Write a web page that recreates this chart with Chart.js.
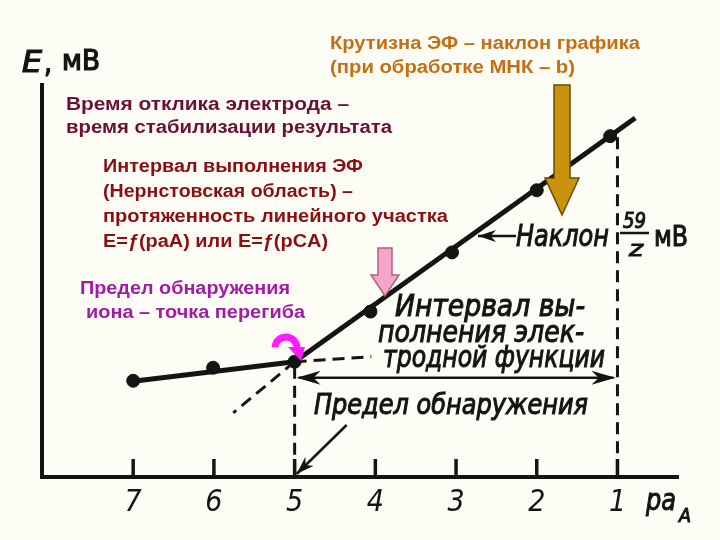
<!DOCTYPE html>
<html>
<head>
<meta charset="utf-8">
<script src="https://cdn.jsdelivr.net/npm/chart.js@4.4.1/dist/chart.umd.min.js"></script>
<style>
html, body { margin: 0; padding: 0; background: #fdfdf6; }
#wrap { width: 720px; height: 540px; }
</style>
</head>
<body>
<div id="wrap"><canvas id="chart" width="720" height="540"></canvas></div>
<script>
// pa_A ticks on the reversed x axis
const tickValues = [7, 6, 5, 4, 3, 2, 1];

// measured points, E in mV (arbitrary zero at the x axis)
const pointPa = [7.0, 6.01, 5.0, 4.06, 3.05, 2.0, 1.09];
const pointE = [96, 109, 115, 165, 224, 286, 340];

// drawn lines
const lowerLinePa = [7.05, 5.0];
const lowerLineE = [95, 115];
const upperLinePa = [5.0, 0.78];
const upperLineE = [115, 358];
const upperExtPa = [5.0, 5.76];
const upperExtE = [115, 64];
const lowerExtPa = [5.0, 4.05];
const lowerExtE = [115, 120];
// vertical dashed limits of the working range
const limitPa = [5, 1];
const limitTopE = [110, 339];
const rangeArrowE = 99;

const INK = '#141414';
const FIG_FONT = "'DejaVu Sans Condensed', 'Liberation Sans Narrow', 'DejaVu Sans'";
const NOTE_FONT = "'Liberation Sans', Arial, sans-serif";

function pts(xs, ys) {
    return xs.map((x, i) => ({x: x, y: ys[i]}));
}

function lineSet(xs, ys, dashed) {
    return {
        data: pts(xs, ys),
        showLine: true,
        borderColor: INK,
        borderWidth: dashed ? 3 : 5,
        borderDash: dashed ? [12, 7] : [],
        pointRadius: 0,
        fill: false
    };
}

function fitText(ctx, text, x, y, w, font, color, thick) {
    ctx.save();
    ctx.font = font;
    ctx.fillStyle = color;
    ctx.textBaseline = 'alphabetic';
    const m = ctx.measureText(text).width;
    ctx.translate(x, y);
    ctx.scale(w / m, 1);
    ctx.fillText(text, 0, 0);
    if (thick) {
        ctx.strokeStyle = color;
        ctx.lineWidth = thick;
        ctx.strokeText(text, 0, 0);
    }
    ctx.restore();
}

function arrowHead(ctx, x1, y1, x2, y2, len, half) {
    const a = Math.atan2(y2 - y1, x2 - x1);
    ctx.beginPath();
    ctx.moveTo(x2, y2);
    ctx.lineTo(x2 - len * Math.cos(a) + half * Math.sin(a), y2 - len * Math.sin(a) - half * Math.cos(a));
    ctx.lineTo(x2 - len * 0.7 * Math.cos(a), y2 - len * 0.7 * Math.sin(a));
    ctx.lineTo(x2 - len * Math.cos(a) - half * Math.sin(a), y2 - len * Math.sin(a) + half * Math.cos(a));
    ctx.closePath();
    ctx.fill();
}

function arrow(ctx, x1, y1, x2, y2) {
    ctx.beginPath();
    ctx.moveTo(x1, y1);
    ctx.lineTo(x2, y2);
    ctx.stroke();
    arrowHead(ctx, x1, y1, x2, y2, 18, 6);
}

function blockArrow(ctx, cx, top, shaftEnd, tip, shaftHalf, headHalf, fill, stroke) {
    ctx.save();
    ctx.beginPath();
    ctx.moveTo(cx - shaftHalf, top);
    ctx.lineTo(cx + shaftHalf, top);
    ctx.lineTo(cx + shaftHalf, shaftEnd);
    ctx.lineTo(cx + headHalf, shaftEnd);
    ctx.lineTo(cx, tip);
    ctx.lineTo(cx - headHalf, shaftEnd);
    ctx.lineTo(cx - shaftHalf, shaftEnd);
    ctx.closePath();
    ctx.fillStyle = fill;
    ctx.fill();
    ctx.lineWidth = 1.5;
    ctx.strokeStyle = stroke;
    ctx.stroke();
    ctx.restore();
}

const decorPlugin = {
    id: 'decor',
    afterDraw(chart) {
        const ctx = chart.ctx;
        const xs = chart.scales.x;
        const ys = chart.scales.y;
        const area = chart.chartArea;
        ctx.save();
        ctx.strokeStyle = INK;
        ctx.fillStyle = INK;
        ctx.lineCap = 'butt';

        // upward tick marks on the x axis
        ctx.lineWidth = 3.5;
        tickValues.forEach(v => {
            const px = xs.getPixelForValue(v);
            ctx.beginPath();
            ctx.moveTo(px, area.bottom);
            ctx.lineTo(px, area.bottom - 18);
            ctx.stroke();
        });

        // double arrow over the working range
        const ya = ys.getPixelForValue(rangeArrowE);
        const xa = xs.getPixelForValue(limitPa[0]);
        const xb = xs.getPixelForValue(limitPa[1]);
        ctx.lineWidth = 2.5;
        ctx.beginPath();
        ctx.moveTo(xa + 4, ya);
        ctx.lineTo(xb - 4, ya);
        ctx.stroke();
        arrowHead(ctx, xb, ya, xa + 2, ya, 24, 7);
        arrowHead(ctx, xa, ya, xb - 2, ya, 24, 7);

        // arrow to detection limit on the axis
        ctx.lineWidth = 2.5;
        arrow(ctx, xa + 52, area.bottom - 52, xa + 2, area.bottom - 3);

        // arrow to the slope
        arrow(ctx, 516, 236, 478, 236);

        // textbook italic labels
        const f30 = 'italic 30px ' + FIG_FONT;
        fitText(ctx, 'Интервал вы-', 395, 316, 190, f30, INK, 1);
        fitText(ctx, 'полнения элек-', 378, 342, 206, f30, INK, 1);
        fitText(ctx, 'тродной функции', 383, 367, 222, f30, INK, 1);
        fitText(ctx, 'Предел обнаружения', 314, 414, 274, 'italic 28px ' + FIG_FONT, INK, 1);
        fitText(ctx, 'Наклон', 516, 246, 93, f30, INK, 1);
        fitText(ctx, '59', 623, 228, 23, 'italic 22px ' + FIG_FONT, INK, 1);
        fitText(ctx, 'z', 629, 256, 14, 'italic 22px ' + FIG_FONT, INK, 1);
        ctx.lineWidth = 2.5;
        ctx.beginPath();
        ctx.moveTo(620, 233);
        ctx.lineTo(649, 233);
        ctx.stroke();
        fitText(ctx, 'мВ', 654, 246, 34, '28px ' + FIG_FONT, INK, 1);
        fitText(ctx, 'E', 22, 72, 20, 'italic 30px ' + FIG_FONT, INK, 1.2);
        fitText(ctx, ',', 44, 72, 8, '30px ' + FIG_FONT, INK, 1.2);
        fitText(ctx, 'мВ', 62, 70, 38, '28px ' + FIG_FONT, INK, 1.2);
        fitText(ctx, 'pa', 646, 510, 30, 'italic 30px ' + FIG_FONT, INK, 1);
        fitText(ctx, 'A', 679, 522, 12, 'italic 20px ' + FIG_FONT, INK, 1);

        // coloured notes on top of the figure
        const nf = 'bold 18px ' + NOTE_FONT;
        fitText(ctx, 'Крутизна ЭФ – наклон графика', 330, 49, 310, nf, '#c46f14');
        fitText(ctx, '(при обработке МНК – b)', 330, 73, 245, nf, '#c46f14');
        fitText(ctx, 'Время отклика электрода –', 66, 110, 283, nf, '#6b0f33');
        fitText(ctx, 'время стабилизации результата', 66, 133, 326, nf, '#6b0f33');
        fitText(ctx, 'Интервал выполнения ЭФ', 103, 172, 260, nf, '#8a0e12');
        fitText(ctx, '(Нернстовская область) –', 103, 197, 250, nf, '#8a0e12');
        fitText(ctx, 'протяженность линейного участка', 103, 222, 345, nf, '#8a0e12');
        fitText(ctx, 'E=ƒ(paA) или E=ƒ(pCA)', 103, 247, 225, nf, '#8a0e12');
        fitText(ctx, 'Предел обнаружения', 80, 294, 210, nf, '#a21aa6');
        fitText(ctx, 'иона – точка перегиба', 86, 318, 219, nf, '#a21aa6');

        // block arrows
        blockArrow(ctx, 562, 85, 178, 215, 8, 17, '#c9930d', '#6a4a00');
        blockArrow(ctx, 385, 248, 275, 296, 7, 14, '#f5a6c8', '#b0607f');

        // magenta curved arrow to the inflection point
        ctx.lineWidth = 7;
        ctx.strokeStyle = '#ff1aff';
        ctx.beginPath();
        ctx.arc(286, 348, 11, Math.PI * 1.02, Math.PI * 0.05);
        ctx.stroke();
        ctx.fillStyle = '#ff1aff';
        ctx.beginPath();
        ctx.moveTo(288, 347);
        ctx.lineTo(305, 347);
        ctx.lineTo(301, 361);
        ctx.closePath();
        ctx.fill();
        ctx.restore();
    }
};

new Chart(document.getElementById('chart').getContext('2d'), {
    type: 'scatter',
    data: {
        datasets: [
            lineSet(lowerLinePa, lowerLineE, false),
            lineSet(upperLinePa, upperLineE, false),
            lineSet(upperExtPa, upperExtE, true),
            lineSet(lowerExtPa, lowerExtE, true),
            lineSet([limitPa[0], limitPa[0]], [limitTopE[0], 0], true),
            lineSet([limitPa[1], limitPa[1]], [limitTopE[1], 0], true),
            {
                data: pts(pointPa, pointE),
                showLine: false,
                pointRadius: 6.5,
                pointBackgroundColor: INK,
                pointBorderColor: INK
            }
        ]
    },
    options: {
        responsive: false,
        animation: false,
        devicePixelRatio: 1,
        layout: {padding: {left: 42, top: 85, right: 42, bottom: 11}},
        plugins: {legend: {display: false}, tooltip: {enabled: false}},
        scales: {
            x: {
                type: 'linear',
                reverse: true,
                min: 0.25,
                max: 8.13,
                afterBuildTicks: s => { s.ticks = tickValues.map(v => ({value: v})); },
                ticks: {
                    autoSkip: false,
                    maxRotation: 0,
                    padding: 8,
                    color: INK,
                    font: {family: FIG_FONT, size: 30, style: 'italic'},
                    callback: v => String(v)
                },
                grid: {display: false, drawTicks: false},
                border: {display: true, color: INK, width: 4}
            },
            y: {
                min: 0,
                max: 391,
                ticks: {display: false},
                grid: {display: false, drawTicks: false},
                border: {display: true, color: INK, width: 4}
            }
        }
    },
    plugins: [decorPlugin]
});
</script>
</body>
</html>
